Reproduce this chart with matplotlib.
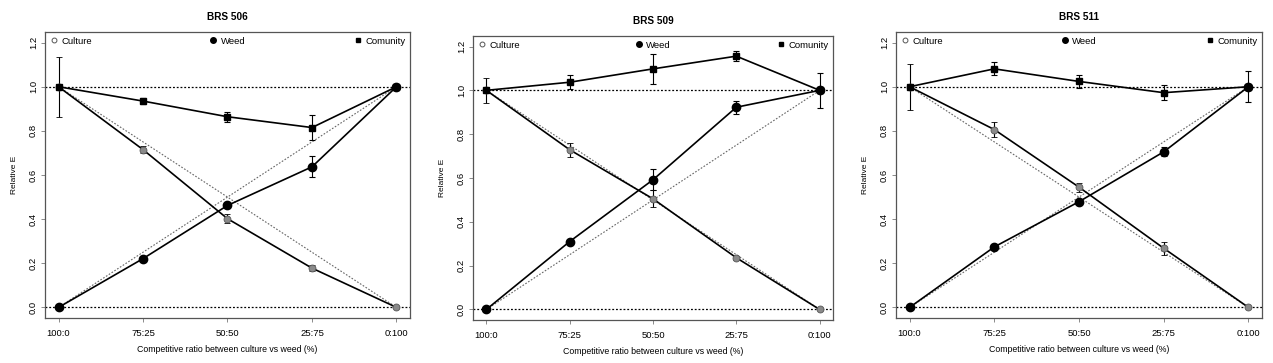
import matplotlib
matplotlib.use("Agg")
import matplotlib.pyplot as plt
from matplotlib.lines import Line2D

plt.rcParams['font.family'] = ['Liberation Sans', 'DejaVu Sans']

ratios = ['100:0', '75:25', '50:50', '25:75', '0:100']
positions = [1, 2, 3, 4, 5]
titles = ['BRS 506', 'BRS 509', 'BRS 511']

# BRS 506
brs506_culture = [1.0, 0.715, 0.402, 0.178, 0.0]
brs506_culture_err = [0.136, 0.015, 0.020, 0.012, 0.0]
brs506_weed = [0.0, 0.221, 0.462, 0.637, 1.0]
brs506_weed_err = [0.0, 0.006, 0.010, 0.047, 0.008]
brs506_comm = [1.0, 0.935, 0.864, 0.815, 1.0]
brs506_comm_err = [0.0, 0.012, 0.023, 0.056, 0.0]

# BRS 509
brs509_culture = [1.0, 0.729, 0.505, 0.236, 0.0]
brs509_culture_err = [0.058, 0.033, 0.038, 0.010, 0.0]
brs509_weed = [0.0, 0.310, 0.592, 0.923, 1.0]
brs509_weed_err = [0.0, 0.005, 0.048, 0.029, 0.079]
brs509_comm = [1.0, 1.037, 1.098, 1.156, 1.0]
brs509_comm_err = [0.0, 0.033, 0.068, 0.023, 0.0]

# BRS 511
brs511_culture = [1.0, 0.806, 0.545, 0.268, 0.0]
brs511_culture_err = [0.105, 0.032, 0.020, 0.030, 0.0]
brs511_weed = [0.0, 0.274, 0.479, 0.705, 1.0]
brs511_weed_err = [0.0, 0.006, 0.010, 0.021, 0.070]
brs511_comm = [1.0, 1.081, 1.024, 0.973, 1.0]
brs511_comm_err = [0.0, 0.029, 0.028, 0.035, 0.0]

panels = [
    (brs506_culture, brs506_culture_err, brs506_weed, brs506_weed_err, brs506_comm, brs506_comm_err),
    (brs509_culture, brs509_culture_err, brs509_weed, brs509_weed_err, brs509_comm, brs509_comm_err),
    (brs511_culture, brs511_culture_err, brs511_weed, brs511_weed_err, brs511_comm, brs511_comm_err),
]

W, H = 1273, 363
fig = plt.figure(figsize=(W / 100, H / 100), dpi=100)

# (left, top, right, bottom) in pixels
boxes = [(45, 32, 410, 318), (473, 36, 833, 320), (896, 32, 1262, 318)]

for (l, t, r, b), title, data in zip(boxes, titles, panels):
    ax = fig.add_axes([l / W, (H - b) / H, (r - l) / W, (b - t) / H])
    cul, cul_e, weed, weed_e, com, com_e = data

    ax.set_xlim(0.84, 5.16)
    ax.set_ylim(-0.048, 1.248)

    # reference lines
    ax.axhline(0, color='black', ls=(0, (1.5, 1.5)), lw=0.9, zorder=1)
    ax.axhline(1, color='black', ls=(0, (1.5, 1.5)), lw=0.9, zorder=1)
    ax.plot([positions[0], positions[-1]], [1, 0], color='#666666', ls=(0, (1.5, 1.5)), lw=0.8, zorder=1)
    ax.plot([positions[0], positions[-1]], [0, 1], color='#666666', ls=(0, (1.5, 1.5)), lw=0.8, zorder=1)

    ekw = dict(ecolor='black', elinewidth=0.8, capsize=2.5, capthick=0.8)
    ax.errorbar(positions, cul, yerr=cul_e, color='black', lw=1.2, marker='o', ms=5,
                mfc='#8a8a8a', mec='#555555', mew=0.6, zorder=3, **ekw)
    ax.errorbar(positions, weed, yerr=weed_e, color='black', lw=1.2, marker='o', ms=6,
                mfc='black', mec='black', zorder=3, **ekw)
    ax.errorbar(positions, com, yerr=com_e, color='black', lw=1.2, marker='s', ms=4,
                mfc='black', mec='black', zorder=3, **ekw)

    ax.set_xticks(positions)
    ax.set_xticklabels(ratios, fontsize=6.8)
    ax.set_yticks([0.0, 0.2, 0.4, 0.6, 0.8, 1.0, 1.2])
    ax.set_yticklabels(['0.0', '0.2', '0.4', '0.6', '0.8', '1.0', '1.2'], fontsize=6.8,
                       rotation=90, va='center')
    ax.tick_params(direction='out', length=3, width=0.6, color='#777777', pad=2)
    ax.tick_params(axis='x', pad=5)
    for s in ax.spines.values():
        s.set_color('#555555')
        s.set_linewidth(0.9)

    ax.set_title(title, fontsize=7.2, fontweight='bold', pad=9)
    ax.set_xlabel('Competitive ratio between culture vs weed (%)', fontsize=6.3, labelpad=5)
    ax.set_ylabel('Relative E', fontsize=6, labelpad=8)

    h1 = Line2D([], [], ls='none', marker='o', ms=3.5, mfc='white', mec='#555555', mew=0.7)
    h2 = Line2D([], [], ls='none', marker='o', ms=4, mfc='black', mec='black')
    h3 = Line2D([], [], ls='none', marker='s', ms=3, mfc='black', mec='black')
    lkw = dict(frameon=False, fontsize=6.8, handlelength=0.8, handletextpad=0.4,
               borderaxespad=0.2, borderpad=0.3)
    leg1 = ax.legend([h1], ['Culture'], loc='upper left', **lkw)
    ax.add_artist(leg1)
    leg2 = ax.legend([h2], ['Weed'], loc='upper center', **lkw)
    ax.add_artist(leg2)
    ax.legend([h3], ['Comunity'], loc='upper right', **lkw)

fig.savefig('out.png', dpi=100)
